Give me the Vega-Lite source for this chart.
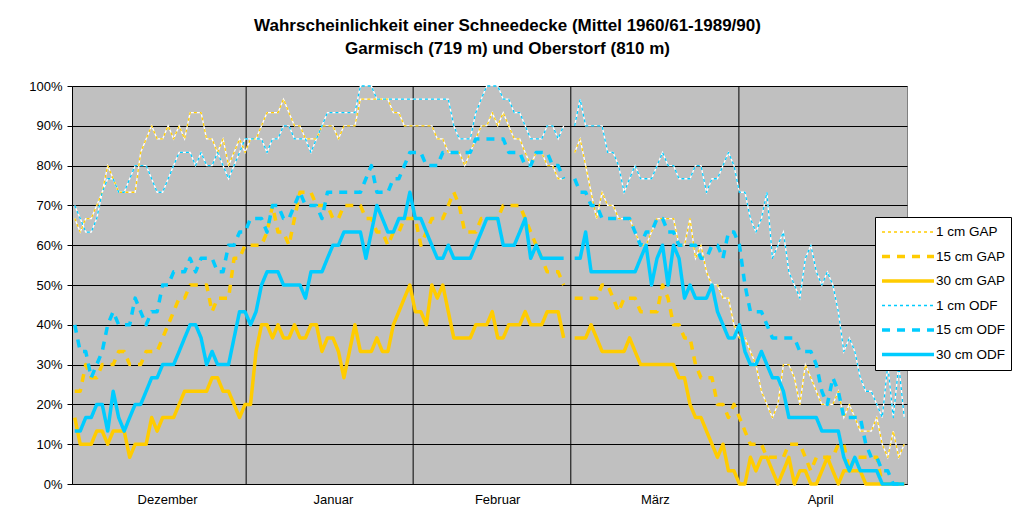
{
"$schema": "https://vega.github.io/schema/vega-lite/v6.json",
"width": 835, "height": 398,
"autosize": {"type": "none"},
"padding": {"left": 72, "top": 86, "right": 106, "bottom": 24},
"background": "white",
"title": {"text": ["Wahrscheinlichkeit einer Schneedecke (Mittel 1960/61-1989/90)", "Garmisch (719 m) und Oberstorf (810 m)"], "font": "Liberation Sans", "fontSize": 17, "fontWeight": "bold", "color": "black", "lineHeight": 23, "anchor": "middle", "frame": "group", "dx": 18, "offset": 22},
"config": {"view": {"fill": "#C0C0C0", "stroke": "#808080", "strokeWidth": 1}},
"data": {"values": [
{"d":0,"g1":66.7,"g15":23.3,"g30":16.7,"o1":70,"o15":40,"o30":13.3},
{"d":1,"g1":63.3,"g15":23.3,"g30":10,"o1":66.7,"o15":33.3,"o30":13.3},
{"d":2,"g1":66.7,"g15":30,"g30":10,"o1":63.3,"o15":33.3,"o30":16.7},
{"d":3,"g1":66.7,"g15":26.7,"g30":10,"o1":63.3,"o15":26.7,"o30":16.7},
{"d":4,"g1":70,"g15":26.7,"g30":13.3,"o1":66.7,"o15":30,"o30":20},
{"d":5,"g1":73.3,"g15":30,"g30":13.3,"o1":73.3,"o15":33.3,"o30":20},
{"d":6,"g1":80,"g15":30,"g30":10,"o1":76.7,"o15":40,"o30":13.3},
{"d":7,"g1":76.7,"g15":30,"g30":13.3,"o1":76.7,"o15":43.3,"o30":23.3},
{"d":8,"g1":73.3,"g15":33.3,"g30":13.3,"o1":73.3,"o15":40,"o30":16.7},
{"d":9,"g1":73.3,"g15":33.3,"g30":13.3,"o1":73.3,"o15":40,"o30":13.3},
{"d":10,"g1":73.3,"g15":30,"g30":6.7,"o1":76.7,"o15":40,"o30":16.7},
{"d":11,"g1":73.3,"g15":30,"g30":10,"o1":80,"o15":46.7,"o30":20},
{"d":12,"g1":83.3,"g15":30,"g30":10,"o1":80,"o15":43.3,"o30":20},
{"d":13,"g1":86.7,"g15":33.3,"g30":10,"o1":80,"o15":40,"o30":23.3},
{"d":14,"g1":90,"g15":33.3,"g30":16.7,"o1":76.7,"o15":43.3,"o30":26.7},
{"d":15,"g1":86.7,"g15":33.3,"g30":13.3,"o1":73.3,"o15":43.3,"o30":26.7},
{"d":16,"g1":86.7,"g15":36.7,"g30":16.7,"o1":73.3,"o15":50,"o30":30},
{"d":17,"g1":90,"g15":40,"g30":16.7,"o1":76.7,"o15":50,"o30":30},
{"d":18,"g1":86.7,"g15":43.3,"g30":16.7,"o1":80,"o15":53.3,"o30":30},
{"d":19,"g1":90,"g15":46.7,"g30":20,"o1":83.3,"o15":53.3,"o30":33.3},
{"d":20,"g1":86.7,"g15":46.7,"g30":23.3,"o1":83.3,"o15":53.3,"o30":36.7},
{"d":21,"g1":93.3,"g15":50,"g30":23.3,"o1":83.3,"o15":56.7,"o30":40},
{"d":22,"g1":93.3,"g15":50,"g30":23.3,"o1":80,"o15":53.3,"o30":40},
{"d":23,"g1":93.3,"g15":50,"g30":23.3,"o1":83.3,"o15":56.7,"o30":36.7},
{"d":24,"g1":86.7,"g15":50,"g30":23.3,"o1":80,"o15":56.7,"o30":30},
{"d":25,"g1":86.7,"g15":43.3,"g30":26.7,"o1":80,"o15":56.7,"o30":33.3},
{"d":26,"g1":83.3,"g15":46.7,"g30":26.7,"o1":83.3,"o15":53.3,"o30":30},
{"d":27,"g1":86.7,"g15":46.7,"g30":23.3,"o1":80,"o15":53.3,"o30":30},
{"d":28,"g1":80,"g15":46.7,"g30":23.3,"o1":76.7,"o15":60,"o30":30},
{"d":29,"g1":83.3,"g15":56.7,"g30":20,"o1":80,"o15":60,"o30":36.7},
{"d":30,"g1":86.7,"g15":56.7,"g30":16.7,"o1":83.3,"o15":63.3,"o30":43.3},
{"d":31,"g1":83.3,"g15":60,"g30":20,"o1":86.7,"o15":63.3,"o30":43.3},
{"d":32,"g1":86.7,"g15":60,"g30":20,"o1":86.7,"o15":66.7,"o30":40},
{"d":33,"g1":86.7,"g15":60,"g30":33.3,"o1":86.7,"o15":66.7,"o30":43.3},
{"d":34,"g1":90,"g15":60,"g30":40,"o1":86.7,"o15":66.7,"o30":50},
{"d":35,"g1":93.3,"g15":63.3,"g30":40,"o1":83.3,"o15":63.3,"o30":53.3},
{"d":36,"g1":93.3,"g15":70,"g30":36.7,"o1":86.7,"o15":70,"o30":53.3},
{"d":37,"g1":93.3,"g15":63.3,"g30":40,"o1":86.7,"o15":70,"o30":53.3},
{"d":38,"g1":96.7,"g15":63.3,"g30":36.7,"o1":90,"o15":66.7,"o30":50},
{"d":39,"g1":93.3,"g15":60,"g30":36.7,"o1":90,"o15":66.7,"o30":50},
{"d":40,"g1":90,"g15":66.7,"g30":40,"o1":86.7,"o15":70,"o30":50},
{"d":41,"g1":90,"g15":73.3,"g30":36.7,"o1":86.7,"o15":73.3,"o30":50},
{"d":42,"g1":86.7,"g15":73.3,"g30":36.7,"o1":86.7,"o15":70,"o30":46.7},
{"d":43,"g1":86.7,"g15":73.3,"g30":40,"o1":83.3,"o15":70,"o30":53.3},
{"d":44,"g1":86.7,"g15":70,"g30":40,"o1":86.7,"o15":70,"o30":53.3},
{"d":45,"g1":90,"g15":70,"g30":33.3,"o1":90,"o15":66.7,"o30":53.3},
{"d":46,"g1":90,"g15":70,"g30":36.7,"o1":93.3,"o15":73.3,"o30":56.7},
{"d":47,"g1":90,"g15":66.7,"g30":36.7,"o1":93.3,"o15":73.3,"o30":60},
{"d":48,"g1":86.7,"g15":66.7,"g30":33.3,"o1":93.3,"o15":73.3,"o30":60},
{"d":49,"g1":90,"g15":70,"g30":26.7,"o1":93.3,"o15":73.3,"o30":63.3},
{"d":50,"g1":90,"g15":70,"g30":33.3,"o1":93.3,"o15":73.3,"o30":63.3},
{"d":51,"g1":90,"g15":70,"g30":40,"o1":93.3,"o15":73.3,"o30":63.3},
{"d":52,"g1":96.7,"g15":70,"g30":33.3,"o1":100,"o15":73.3,"o30":63.3},
{"d":53,"g1":96.7,"g15":66.7,"g30":33.3,"o1":100,"o15":76.7,"o30":56.7},
{"d":54,"g1":96.7,"g15":66.7,"g30":33.3,"o1":100,"o15":80,"o30":63.3},
{"d":55,"g1":96.7,"g15":63.3,"g30":36.7,"o1":96.7,"o15":73.3,"o30":70},
{"d":56,"g1":96.7,"g15":63.3,"g30":33.3,"o1":96.7,"o15":73.3,"o30":66.7},
{"d":57,"g1":96.7,"g15":60,"g30":33.3,"o1":96.7,"o15":73.3,"o30":63.3},
{"d":58,"g1":93.3,"g15":63.3,"g30":40,"o1":96.7,"o15":76.7,"o30":63.3},
{"d":59,"g1":93.3,"g15":63.3,"g30":43.3,"o1":96.7,"o15":76.7,"o30":66.7},
{"d":60,"g1":90,"g15":66.7,"g30":46.7,"o1":96.7,"o15":80,"o30":66.7},
{"d":61,"g1":90,"g15":66.7,"g30":50,"o1":96.7,"o15":83.3,"o30":73.3},
{"d":62,"g1":90,"g15":66.7,"g30":43.3,"o1":96.7,"o15":83.3,"o30":66.7},
{"d":63,"g1":90,"g15":60,"g30":43.3,"o1":96.7,"o15":83.3,"o30":66.7},
{"d":64,"g1":90,"g15":63.3,"g30":40,"o1":96.7,"o15":80,"o30":63.3},
{"d":65,"g1":90,"g15":66.7,"g30":50,"o1":96.7,"o15":80,"o30":60},
{"d":66,"g1":86.7,"g15":66.7,"g30":46.7,"o1":96.7,"o15":80,"o30":56.7},
{"d":67,"g1":86.7,"g15":66.7,"g30":50,"o1":96.7,"o15":83.3,"o30":56.7},
{"d":68,"g1":83.3,"g15":70,"g30":43.3,"o1":96.7,"o15":83.3,"o30":60},
{"d":69,"g1":83.3,"g15":73.3,"g30":36.7,"o1":90,"o15":83.3,"o30":56.7},
{"d":70,"g1":83.3,"g15":70,"g30":36.7,"o1":86.7,"o15":83.3,"o30":56.7},
{"d":71,"g1":80,"g15":63.3,"g30":36.7,"o1":86.7,"o15":83.3,"o30":56.7},
{"d":72,"g1":83.3,"g15":63.3,"g30":36.7,"o1":86.7,"o15":83.3,"o30":56.7},
{"d":73,"g1":86.7,"g15":63.3,"g30":40,"o1":93.3,"o15":86.7,"o30":60},
{"d":74,"g1":90,"g15":66.7,"g30":40,"o1":96.7,"o15":86.7,"o30":63.3},
{"d":75,"g1":90,"g15":66.7,"g30":40,"o1":100,"o15":86.7,"o30":66.7},
{"d":76,"g1":93.3,"g15":66.7,"g30":43.3,"o1":100,"o15":86.7,"o30":66.7},
{"d":77,"g1":90,"g15":66.7,"g30":36.7,"o1":100,"o15":86.7,"o30":66.7},
{"d":78,"g1":93.3,"g15":70,"g30":36.7,"o1":96.7,"o15":86.7,"o30":60},
{"d":79,"g1":90,"g15":70,"g30":40,"o1":96.7,"o15":83.3,"o30":60},
{"d":80,"g1":86.7,"g15":70,"g30":40,"o1":93.3,"o15":83.3,"o30":60},
{"d":81,"g1":86.7,"g15":70,"g30":40,"o1":93.3,"o15":83.3,"o30":63.3},
{"d":82,"g1":83.3,"g15":66.7,"g30":43.3,"o1":90,"o15":80,"o30":66.7},
{"d":83,"g1":80,"g15":63.3,"g30":40,"o1":86.7,"o15":80,"o30":56.7},
{"d":84,"g1":83.3,"g15":60,"g30":40,"o1":86.7,"o15":83.3,"o30":60},
{"d":85,"g1":83.3,"g15":56.7,"g30":40,"o1":86.7,"o15":83.3,"o30":56.7},
{"d":86,"g1":80,"g15":53.3,"g30":43.3,"o1":90,"o15":83.3,"o30":56.7},
{"d":87,"g1":80,"g15":53.3,"g30":43.3,"o1":90,"o15":80,"o30":56.7},
{"d":88,"g1":76.7,"g15":53.3,"g30":43.3,"o1":86.7,"o15":80,"o30":56.7},
{"d":89,"g1":76.7,"g15":50,"g30":36.7,"o1":90,"o15":76.7,"o30":56.7},
{"d":90,"g1":null,"g15":null,"g30":null,"o1":null,"o15":null,"o30":null},
{"d":91,"g1":83.3,"g15":46.7,"g30":36.7,"o1":90,"o15":76.7,"o30":56.7},
{"d":92,"g1":86.7,"g15":46.7,"g30":36.7,"o1":96.7,"o15":73.3,"o30":56.7},
{"d":93,"g1":80,"g15":46.7,"g30":36.7,"o1":90,"o15":73.3,"o30":63.3},
{"d":94,"g1":73.3,"g15":46.7,"g30":40,"o1":90,"o15":70,"o30":53.3},
{"d":95,"g1":66.7,"g15":46.7,"g30":36.7,"o1":90,"o15":70,"o30":53.3},
{"d":96,"g1":73.3,"g15":50,"g30":33.3,"o1":90,"o15":66.7,"o30":53.3},
{"d":97,"g1":70,"g15":50,"g30":33.3,"o1":83.3,"o15":66.7,"o30":53.3},
{"d":98,"g1":70,"g15":46.7,"g30":33.3,"o1":83.3,"o15":66.7,"o30":53.3},
{"d":99,"g1":66.7,"g15":43.3,"g30":33.3,"o1":80,"o15":66.7,"o30":53.3},
{"d":100,"g1":66.7,"g15":46.7,"g30":33.3,"o1":73.3,"o15":66.7,"o30":53.3},
{"d":101,"g1":66.7,"g15":46.7,"g30":36.7,"o1":76.7,"o15":66.7,"o30":53.3},
{"d":102,"g1":63.3,"g15":46.7,"g30":33.3,"o1":80,"o15":63.3,"o30":53.3},
{"d":103,"g1":60,"g15":43.3,"g30":30,"o1":76.7,"o15":60,"o30":56.7},
{"d":104,"g1":60,"g15":43.3,"g30":30,"o1":76.7,"o15":63.3,"o30":60},
{"d":105,"g1":63.3,"g15":43.3,"g30":30,"o1":76.7,"o15":63.3,"o30":50},
{"d":106,"g1":66.7,"g15":43.3,"g30":30,"o1":80,"o15":66.7,"o30":56.7},
{"d":107,"g1":66.7,"g15":50,"g30":30,"o1":83.3,"o15":66.7,"o30":60},
{"d":108,"g1":66.7,"g15":46.7,"g30":30,"o1":80,"o15":63.3,"o30":50},
{"d":109,"g1":66.7,"g15":40,"g30":30,"o1":80,"o15":63.3,"o30":60},
{"d":110,"g1":60,"g15":40,"g30":26.7,"o1":76.7,"o15":60,"o30":56.7},
{"d":111,"g1":60,"g15":36.7,"g30":26.7,"o1":76.7,"o15":60,"o30":46.7},
{"d":112,"g1":66.7,"g15":36.7,"g30":20,"o1":76.7,"o15":60,"o30":50},
{"d":113,"g1":56.7,"g15":30,"g30":16.7,"o1":80,"o15":60,"o30":46.7},
{"d":114,"g1":60,"g15":26.7,"g30":16.7,"o1":80,"o15":56.7,"o30":46.7},
{"d":115,"g1":53.3,"g15":26.7,"g30":13.3,"o1":73.3,"o15":56.7,"o30":46.7},
{"d":116,"g1":50,"g15":26.7,"g30":10,"o1":76.7,"o15":60,"o30":50},
{"d":117,"g1":50,"g15":20,"g30":6.7,"o1":76.7,"o15":60,"o30":43.3},
{"d":118,"g1":46.7,"g15":20,"g30":10,"o1":80,"o15":56.7,"o30":40},
{"d":119,"g1":46.7,"g15":16.7,"g30":3.3,"o1":83.3,"o15":63.3,"o30":36.7},
{"d":120,"g1":40,"g15":20,"g30":3.3,"o1":80,"o15":63.3,"o30":36.7},
{"d":121,"g1":36.7,"g15":16.7,"g30":0,"o1":73.3,"o15":60,"o30":40},
{"d":122,"g1":36.7,"g15":13.3,"g30":0,"o1":73.3,"o15":50,"o30":33.3},
{"d":123,"g1":33.3,"g15":10,"g30":6.7,"o1":66.7,"o15":43.3,"o30":30},
{"d":124,"g1":30,"g15":10,"g30":3.3,"o1":63.3,"o15":43.3,"o30":30},
{"d":125,"g1":23.3,"g15":10,"g30":6.7,"o1":66.7,"o15":43.3,"o30":33.3},
{"d":126,"g1":20,"g15":6.7,"g30":6.7,"o1":73.3,"o15":40,"o30":30},
{"d":127,"g1":16.7,"g15":6.7,"g30":3.3,"o1":56.7,"o15":36.7,"o30":26.7},
{"d":128,"g1":20,"g15":6.7,"g30":0,"o1":60,"o15":36.7,"o30":26.7},
{"d":129,"g1":30,"g15":6.7,"g30":3.3,"o1":63.3,"o15":36.7,"o30":23.3},
{"d":130,"g1":30,"g15":10,"g30":6.7,"o1":53.3,"o15":36.7,"o30":16.7},
{"d":131,"g1":26.7,"g15":10,"g30":0,"o1":50,"o15":36.7,"o30":16.7},
{"d":132,"g1":20,"g15":10,"g30":3.3,"o1":46.7,"o15":33.3,"o30":16.7},
{"d":133,"g1":30,"g15":6.7,"g30":3.3,"o1":56.7,"o15":33.3,"o30":16.7},
{"d":134,"g1":26.7,"g15":3.3,"g30":0,"o1":60,"o15":33.3,"o30":16.7},
{"d":135,"g1":23.3,"g15":6.7,"g30":0,"o1":53.3,"o15":30,"o30":16.7},
{"d":136,"g1":20,"g15":6.7,"g30":3.3,"o1":50,"o15":23.3,"o30":13.3},
{"d":137,"g1":20,"g15":6.7,"g30":6.7,"o1":53.3,"o15":20,"o30":13.3},
{"d":138,"g1":20,"g15":6.7,"g30":3.3,"o1":50,"o15":26.7,"o30":13.3},
{"d":139,"g1":23.3,"g15":10,"g30":0,"o1":43.3,"o15":23.3,"o30":13.3},
{"d":140,"g1":16.7,"g15":10,"g30":3.3,"o1":33.3,"o15":16.7,"o30":6.7},
{"d":141,"g1":20,"g15":3.3,"g30":3.3,"o1":36.7,"o15":16.7,"o30":3.3},
{"d":142,"g1":16.7,"g15":6.7,"g30":3.3,"o1":33.3,"o15":16.7,"o30":6.7},
{"d":143,"g1":13.3,"g15":6.7,"g30":3.3,"o1":26.7,"o15":16.7,"o30":3.3},
{"d":144,"g1":13.3,"g15":6.7,"g30":0,"o1":23.3,"o15":10,"o30":3.3},
{"d":145,"g1":13.3,"g15":6.7,"g30":0,"o1":23.3,"o15":6.7,"o30":3.3},
{"d":146,"g1":16.7,"g15":6.7,"g30":0,"o1":20,"o15":6.7,"o30":3.3},
{"d":147,"g1":10,"g15":0,"g30":0,"o1":16.7,"o15":3.3,"o30":0},
{"d":148,"g1":6.7,"g15":0,"g30":0,"o1":30,"o15":3.3,"o30":0},
{"d":149,"g1":13.3,"g15":0,"g30":0,"o1":16.7,"o15":0,"o30":0},
{"d":150,"g1":6.7,"g15":0,"g30":0,"o1":30,"o15":0,"o30":0},
{"d":151,"g1":10,"g15":0,"g30":0,"o1":16.7,"o15":0,"o30":0}
]},
"encoding": {
  "x": {"field": "d", "type": "quantitative", "scale": {"domain": [-0.5, 151.5], "nice": false, "zero": false},
        "axis": {"title": null, "values": [16.8, 47, 76.9, 105.6, 135.7], "labelExpr": "datum.value < 30 ? 'Dezember' : datum.value < 60 ? 'Januar' : datum.value < 90 ? 'Februar' : datum.value < 120 ? 'März' : 'April'", "ticks": false, "grid": false, "domainColor": "black", "domainWidth": 1, "labelFont": "Liberation Sans", "labelFontSize": 13, "labelColor": "black", "labelPadding": 9, "labelAngle": 0, "labelOverlap": false, "labelFlush": false}}
},
"layer": [
  {"data": {"values": [{"d": 31.2}, {"d": 61.6}, {"d": 90.3}, {"d": 120.9}]},
   "mark": {"type": "rule", "color": "black", "strokeWidth": 1}},
  {"transform": [{"fold": ["g1", "g15", "g30", "o1", "o15", "o30"], "as": ["serie", "wert"]}],
   "encoding": {
     "y": {"field": "wert", "type": "quantitative", "scale": {"domain": [0, 100], "nice": false},
           "axis": {"title": null, "values": [0,10,20,30,40,50,60,70,80,90,100], "labelExpr": "datum.value + '%'", "grid": true, "gridColor": "black", "gridWidth": 1, "tickColor": "black", "tickSize": 5, "domainColor": "black", "labelFont": "Liberation Sans", "labelFontSize": 13, "labelColor": "black", "labelPadding": 5}}
   },
   "layer": [
     {"transform": [{"filter": "datum.serie == 'g1' || datum.serie == 'o1'"}],
      "mark": {"type": "line", "color": "white", "strokeWidth": 1.3, "invalid": "break-paths-show-domains"},
      "encoding": {"detail": {"field": "serie", "type": "nominal"}}},
     {"mark": {"type": "line", "strokeCap": "butt", "strokeJoin": "round", "invalid": "break-paths-show-domains"},
      "encoding": {
        "color": {"field": "serie", "type": "nominal",
          "scale": {"domain": ["g1","g15","g30","o1","o15","o30"], "range": ["#FFCC00","#FFCC00","#FFCC00","#00CCFF","#00CCFF","#00CCFF"]},
          "legend": {"title": null, "orient": "none", "legendX": 803, "legendY": 131, "fillColor": "white", "strokeColor": "black", "padding": 5, "symbolType": "stroke", "symbolSize": 2700, "clipHeight": 20, "rowPadding": 4.5, "labelFont": "Liberation Sans", "labelFontSize": 13.5, "labelColor": "black", "labelOffset": 0,
            "labelExpr": "datum.label == 'g1' ? '1 cm GAP' : datum.label == 'g15' ? '15 cm GAP' : datum.label == 'g30' ? '30 cm GAP' : datum.label == 'o1' ? '1 cm ODF' : datum.label == 'o15' ? '15 cm ODF' : '30 cm ODF'"}},
        "strokeDash": {"field": "serie", "type": "nominal",
          "scale": {"domain": ["g1","g15","g30","o1","o15","o30"], "range": [[3,3],[8,7],[1,0],[3,3],[8,7],[1,0]]}},
        "strokeWidth": {"field": "serie", "type": "nominal",
          "scale": {"type": "ordinal", "domain": ["g1","g15","g30","o1","o15","o30"], "range": [1.3,3.5,3.5,1.3,3.5,3.5]}}
      }}
   ]}
]
}
